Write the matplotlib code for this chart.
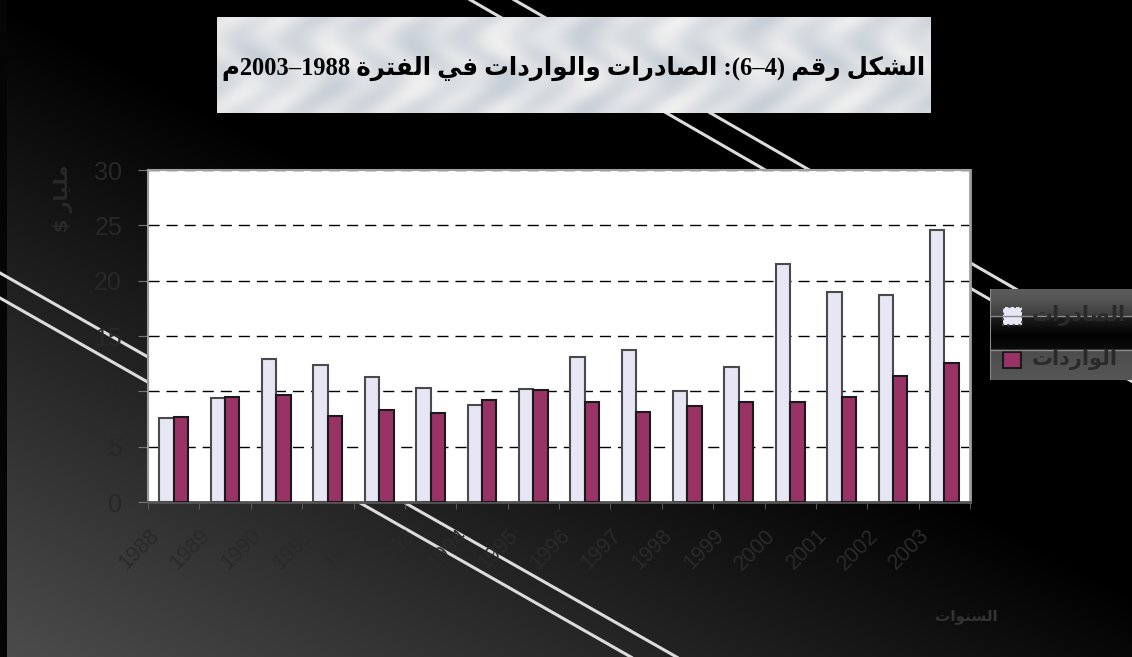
import re
import numpy as np
import matplotlib
matplotlib.use("Agg")
import matplotlib.pyplot as plt
from matplotlib.patches import Rectangle
from matplotlib.transforms import ScaledTranslation

W, H = 1132, 657

years = [str(y) for y in range(1988, 2004)]
exports = [7.6, 9.4, 12.9, 12.4, 11.3, 10.3, 8.8, 10.2,
           13.1, 13.7, 10.0, 12.2, 21.5, 19.0, 18.7, 24.6]
imports = [7.7, 9.5, 9.7, 7.8, 8.3, 8.0, 9.2, 10.1,
           9.0, 8.1, 8.7, 9.0, 9.0, 9.5, 11.4, 12.6]
yticks = [0, 5, 10, 15, 20, 25, 30]

title_text = "الشكل رقم (4–6): الصادرات والواردات في الفترة 1988–2003م"
series_names = ["الصادرات", "الواردات"]
ylabel_text = "مليار $"
xlabel_text = "السنوات"

# presentation forms: isolated, final, initial, medial
AR_FORMS = {
    "ا": ("\ufe8d", "\ufe8e", None, None),
    "ة": ("\ufe93", "\ufe94", None, None),
    "ت": ("\ufe95", "\ufe96", "\ufe97", "\ufe98"),
    "د": ("\ufea9", "\ufeaa", None, None),
    "ر": ("\ufead", "\ufeae", None, None),
    "س": ("\ufeb1", "\ufeb2", "\ufeb3", "\ufeb4"),
    "ش": ("\ufeb5", "\ufeb6", "\ufeb7", "\ufeb8"),
    "ص": ("\ufeb9", "\ufeba", "\ufebb", "\ufebc"),
    "ف": ("\ufed1", "\ufed2", "\ufed3", "\ufed4"),
    "ق": ("\ufed5", "\ufed6", "\ufed7", "\ufed8"),
    "ك": ("\ufed9", "\ufeda", "\ufedb", "\ufedc"),
    "ل": ("\ufedd", "\ufede", "\ufedf", "\ufee0"),
    "م": ("\ufee1", "\ufee2", "\ufee3", "\ufee4"),
    "ن": ("\ufee5", "\ufee6", "\ufee7", "\ufee8"),
    "و": ("\ufeed", "\ufeee", None, None),
    "ي": ("\ufef1", "\ufef2", "\ufef3", "\ufef4"),
}


def ar(text):
    """Shape Arabic letters and put the string in visual (left-to-right) order."""
    out = []
    for i, ch in enumerate(text):
        forms = AR_FORMS.get(ch)
        if forms is None:
            out.append(ch)
            continue
        prev = text[i - 1] if i > 0 else ""
        nxt = text[i + 1] if i + 1 < len(text) else ""
        join_prev = prev in AR_FORMS and AR_FORMS[prev][2] is not None
        join_next = forms[2] is not None and nxt in AR_FORMS
        if join_prev and join_next:
            out.append(forms[3])
        elif join_prev:
            out.append(forms[1])
        elif join_next:
            out.append(forms[2])
        else:
            out.append(forms[0])
    vis = "".join(out)[::-1]
    vis = re.sub(r"[0-9]+", lambda m: m.group(0)[::-1], vis)
    return vis.translate(str.maketrans("()", ")("))


def px_box(x0, y0, x1, y1):
    return [x0 / W, 1 - y1 / H, (x1 - x0) / W, (y1 - y0) / H]


fig = plt.figure(figsize=(W / 100, H / 100), dpi=100)
fig.patch.set_facecolor("black")

# dark background with a grey glow in the lower left
bg = fig.add_axes([0, 0, 1, 1])
yy, xx = np.mgrid[0:H, 0:W]
u, v = xx / W, yy / H
shade = 0.30 * np.clip(v - 0.9 * u, 0, 1)
shade[:, :7] = 0.02
bg.imshow(np.dstack([shade] * 3), extent=(0, W, H, 0), aspect="auto")
bg.set_xlim(0, W)
bg.set_ylim(H, 0)
bg.axis("off")

# two pairs of diagonal white rules
for x_a, y_a, x_b, y_b in [(0, 298, 362, 504), (0, 273, 407, 504),
                           (500, 17, 970, 288), (544, 17, 1014, 288)]:
    s = (y_b - y_a) / (x_b - x_a)
    xs = np.array([x_a - 600, x_b + 800])
    bg.plot(xs, y_a + s * (xs - x_a), color="#dcdcdc", lw=2.2,
            solid_capstyle="butt")

# title panel
tax = fig.add_axes(px_box(217, 17, 930, 113))
ty, tx = np.mgrid[0:96, 0:713]
streak = (0.035 * np.sin(tx / 9.0 + 2.2 * np.sin(ty / 13.0))
          + 0.025 * np.sin((tx + 1.7 * ty) / 23.0)
          + 0.02 * np.sin((tx - 2.3 * ty) / 31.0))
tex = np.dstack([0.86 + streak, 0.875 + streak * 0.8, 0.89 + streak * 0.6])
tax.imshow(np.clip(tex, 0, 1), extent=(217, 930, 113, 17), aspect="auto")
tax.set_xlim(217, 930)
tax.set_ylim(113, 17)
tax.axis("off")
title = tax.text(573.5, 75, ar(title_text), ha="center", va="baseline",
                 fontsize=20, fontweight="bold", color="black",
                 family=["Liberation Serif", "DejaVu Sans"])
renderer = fig.canvas.get_renderer()
wpx = title.get_window_extent(renderer).width
title.set_fontsize(20 * 703 / wpx)

# main chart
ax = fig.add_axes(px_box(148, 170, 970, 502))
ax.set_facecolor("white")
x = np.arange(len(years))
bw = 0.28
ax.bar(x - bw / 2, exports, bw, color="#e6e6f4", edgecolor="#4a4a4a",
       linewidth=1.5, zorder=3)
ax.bar(x + bw / 2, imports, bw, color="#993366", edgecolor="#1a1a1a",
       linewidth=1.5, zorder=3)

ax.set_xlim(-0.5, len(years) - 0.5)
ax.set_ylim(0, 30)
ax.set_yticks(yticks)
ax.yaxis.grid(True, linestyle=(0, (8, 5)), color="black", lw=1)
ax.set_axisbelow(True)

ax.set_xticks(x)
ax.set_xticklabels(years, rotation=45, ha="right", va="center",
                   rotation_mode="anchor", fontsize=15.5, color="#2a2a2a",
                   family="Liberation Sans")
ax.set_xticks(np.arange(-0.5, len(years), 1), minor=True)
ax.tick_params(axis="x", which="major", length=0, pad=22)
ax.tick_params(axis="x", which="minor", length=5, color="#666", direction="out")
offset = ScaledTranslation(-0.18, 0, fig.dpi_scale_trans)
for lbl in ax.get_xticklabels():
    lbl.set_transform(lbl.get_transform() + offset)

ax.tick_params(axis="y", length=7.2, color="#777", direction="out", pad=11.5,
               labelsize=18, labelcolor="#282828")
for lbl in ax.get_yticklabels():
    lbl.set_family("Liberation Sans")

for side, col, lw in [("left", "#9a9a9a", 1.5), ("right", "#a0a0a0", 2),
                      ("top", "#a0a0a0", 1.5), ("bottom", "#555555", 2)]:
    ax.spines[side].set_color(col)
    ax.spines[side].set_linewidth(lw)

fig.text(63 / W, 1 - 198 / H, ar(ylabel_text), rotation=90, ha="center",
         va="center", fontsize=14, fontweight="bold", color="#2a2a2a",
         family=["DejaVu Sans"])
fig.text(966 / W, 1 - 616 / H, ar(xlabel_text), ha="center", va="center",
         fontsize=11, fontweight="bold", color="#333333",
         family=["DejaVu Sans"])

# legend panel
lax = fig.add_axes(px_box(990, 289, 1132, 380))
ly = np.arange(289, 381)
prof = np.interp(ly, [289, 300, 315, 317, 335, 349, 351, 380],
                 [0.36, 0.33, 0.24, 0.12, 0.0, 0.05, 0.30, 0.34])
lax.imshow(np.dstack([np.tile(prof[:, None], (1, 142))] * 3),
           extent=(990, 1132, 380, 289), aspect="auto")
lax.set_xlim(990, 1132)
lax.set_ylim(380, 289)
lax.axis("off")
lax.plot([990, 990], [289, 380], color="#8a8a8a", lw=1.5)
for yl in (316, 350):
    lax.plot([990, 1132], [yl, yl], color="#8a8a8a", lw=1)
lax.add_patch(Rectangle((1003, 307), 19, 18, facecolor="#e6e6f4",
                        edgecolor="#4a4a4a", lw=1.5, linestyle=":"))
lax.add_patch(Rectangle((1003, 352), 18, 16, facecolor="#993366",
                        edgecolor="#1a1a1a", lw=1.5))
for name, yl in zip(series_names, (316, 359)):
    lax.text(1032, yl, ar(name), ha="left", va="center", fontsize=15,
             fontweight="bold", color="#2a2a2a", family=["DejaVu Sans"],
             clip_on=False)

fig.savefig("out.png", dpi=100, facecolor=fig.get_facecolor())
